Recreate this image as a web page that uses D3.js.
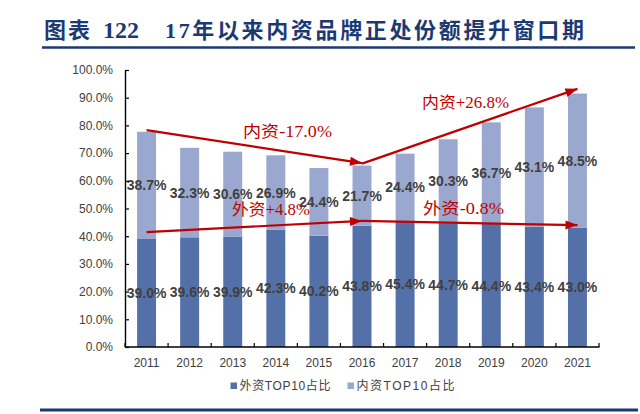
<!DOCTYPE html>
<html>
<head>
<meta charset="utf-8">
<script src="https://cdn.jsdelivr.net/npm/d3@7"></script>
<style>
  html, body { margin: 0; padding: 0; background: #fff; }
  svg { display: block; }
</style>
</head>
<body>
<svg id="chart" width="640" height="414"></svg>
<script>
// ---------- data ----------
const years = ["2011","2012","2013","2014","2015","2016","2017","2018","2019","2020","2021"];
const foreignShare = [39.0, 39.6, 39.9, 42.3, 40.2, 43.8, 45.4, 44.7, 44.4, 43.4, 43.0]; // 外资TOP10占比
const domesticShare = [38.7, 32.3, 30.6, 26.9, 24.4, 21.7, 24.4, 30.3, 36.7, 43.1, 48.5]; // 内资TOP10占比
const seriesNames = ["外资TOP10占比", "内资TOP10占比"];
const yTicks = [0, 10, 20, 30, 40, 50, 60, 70, 80, 90, 100];
const titleLead = "图表";
const titleNum = "122";
const titleText = "17年以来内资品牌正处份额提升窗口期";
// trend annotations: [fromYear, fromValue, toYear, toValue, label]
const trendFrom = [["2011", 78.3], ["2016", 66.2], ["2011", 41.5], ["2016", 45.5]];
const trendTo   = [["2016", 66.4], ["2021", 93.2], ["2016", 45.5], ["2021", 44.0]];
const trendLabels = ["内资-17.0%", "内资+26.8%", "外资+4.8%", "外资-0.8%"];

// ---------- setup ----------
const svg = d3.select("#chart");
const colors = ["#5470a8", "#9aa8cf"];
const red = "#c00000";
const navy = "#1c3a72";

svg.append("rect").attr("width", 640).attr("height", 414).attr("fill", "#fff");

// title
svg.append("text").attr("x", 44).attr("y", 38)
  .attr("font-family", "'Noto Sans CJK SC', sans-serif").attr("font-weight", "bold")
  .attr("font-size", 22).attr("fill", navy)
  .attr("textLength", 46).attr("lengthAdjust", "spacing")
  .text(titleLead);
svg.append("text").attr("x", 103).attr("y", 38)
  .attr("font-family", "'Liberation Serif', serif").attr("font-weight", "bold")
  .attr("font-size", 24).attr("fill", navy)
  .text(titleNum);
svg.append("text").attr("x", 165).attr("y", 38)
  .attr("font-family", "'Liberation Serif', 'Noto Sans CJK SC', serif").attr("font-weight", "bold")
  .attr("font-size", 22).attr("fill", navy)
  .attr("textLength", 419).attr("lengthAdjust", "spacing")
  .text(titleText);
svg.append("line").attr("x1", 42).attr("x2", 635).attr("y1", 47.5).attr("y2", 47.5)
  .attr("stroke", navy).attr("stroke-width", 2.6);
svg.append("line").attr("x1", 40).attr("x2", 638).attr("y1", 410).attr("y2", 410)
  .attr("stroke", navy).attr("stroke-width", 3);

// scales
const x = d3.scaleBand().domain(years).range([125, 599]).paddingInner(0.56).paddingOuter(0.28);
const y = d3.scaleLinear().domain([0, 100]).range([347, 70]);

// stacked bars
const rows = years.map((yr, i) => ({ year: yr, foreign: foreignShare[i], domestic: domesticShare[i] }));
const stack = d3.stack().keys(["foreign", "domestic"])(rows);

const g = svg.append("g");
g.selectAll("g.series").data(stack).join("g")
  .attr("class", "series")
  .attr("fill", (d, i) => colors[i])
  .selectAll("rect").data(d => d).join("rect")
  .attr("x", d => x(d.data.year))
  .attr("width", x.bandwidth())
  .attr("y", d => y(d[1]))
  .attr("height", d => y(d[0]) - y(d[1]));

// data labels
stack.forEach((s, si) => {
  g.selectAll("text.lbl" + si).data(s).join("text")
    .attr("class", "lbl" + si)
    .attr("x", d => x(d.data.year) + x.bandwidth() / 2)
    .attr("y", d => y((d[0] + d[1]) / 2))
    .attr("dy", "0.36em")
    .attr("text-anchor", "middle")
    .attr("font-family", "'Liberation Sans', Arial, sans-serif")
    .attr("font-weight", "bold").attr("font-size", 14).attr("fill", "#404040")
    .text(d => (d[1] - d[0]).toFixed(1) + "%");
});

// y axis
const yAxis = d3.axisLeft(y).tickValues(yTicks).tickFormat(d => d.toFixed(1) + "%")
  .tickSizeInner(-4).tickSizeOuter(0).tickPadding(12);
const ya = svg.append("g").attr("transform", "translate(125,0)").call(yAxis);
ya.select(".domain").attr("stroke", "#000").attr("stroke-width", 1.4);
ya.selectAll(".tick line").attr("stroke", "#000").attr("stroke-width", 1.2);
ya.selectAll(".tick text").attr("font-family", "'Liberation Sans', Arial, sans-serif")
  .attr("font-size", 12).attr("fill", "#404040");

// x axis
const xAxis = d3.axisBottom(x).tickSize(0).tickPadding(11);
const xa = svg.append("g").attr("transform", "translate(0,347)").call(xAxis);
xa.select(".domain").remove();
xa.selectAll(".tick text").attr("font-family", "'Liberation Sans', Arial, sans-serif")
  .attr("font-size", 12).attr("fill", "#404040");
svg.append("line").attr("x1", 125).attr("x2", 599.5).attr("y1", 347).attr("y2", 347)
  .attr("stroke", "#000").attr("stroke-width", 1.4);
const boundaries = d3.range(years.length + 1).map(k => x.range()[0] + k * x.step());
svg.selectAll("line.xtick").data(boundaries).join("line")
  .attr("class", "xtick")
  .attr("x1", d => d).attr("x2", d => d)
  .attr("y1", 347).attr("y2", 343)
  .attr("stroke", "#000").attr("stroke-width", 1.2);

// legend
const legend = svg.append("g");
const legendX = [230.5, 347.5];
seriesNames.forEach((name, i) => {
  legend.append("rect").attr("x", legendX[i]).attr("y", 382.5).attr("width", 6.5).attr("height", 6.5)
    .attr("fill", colors[i]);
  legend.append("text").attr("x", legendX[i] + 9).attr("y", 390)
    .attr("font-family", "'Liberation Sans', 'Noto Sans CJK SC', sans-serif")
    .attr("font-size", 12).attr("fill", "#404040")
    .attr("textLength", i === 0 ? 91 : 98).attr("lengthAdjust", "spacing")
    .text(name);
});

// arrows
const defs = svg.append("defs");
defs.append("marker").attr("id", "arrowhead")
  .attr("viewBox", "0 -5 12 10").attr("refX", 12).attr("refY", 0)
  .attr("markerUnits", "userSpaceOnUse").attr("markerWidth", 13).attr("markerHeight", 10)
  .attr("orient", "auto")
  .append("path").attr("d", "M0,-4.5L12,0L0,4.5Z").attr("fill", red);

const cx = yr => x(yr) + x.bandwidth() / 2;
const arrows = trendFrom.map((f, i) => ({ from: f, to: trendTo[i], label: trendLabels[i] }));
svg.selectAll("line.arrow").data(arrows).join("line")
  .attr("class", "arrow")
  .attr("x1", d => cx(d.from[0])).attr("y1", d => y(d.from[1]))
  .attr("x2", d => cx(d.to[0])).attr("y2", d => y(d.to[1]))
  .attr("stroke", red).attr("stroke-width", 2.2)
  .attr("marker-end", "url(#arrowhead)");

// arrow labels
const labelPos = [[243, 131], [422, 102], [232, 209], [423, 208]];
const labelW = [89, 87, 78, 81];
arrows.forEach((a, i) => {
  svg.append("text").attr("x", labelPos[i][0]).attr("y", labelPos[i][1])
    .attr("dy", "0.36em")
    .attr("font-family", "'Liberation Serif', 'Noto Sans CJK SC', serif")
    .attr("font-size", 16).attr("fill", red)
    .attr("textLength", labelW[i]).attr("lengthAdjust", "spacingAndGlyphs")
    .text(a.label);
});
</script>
</body>
</html>
